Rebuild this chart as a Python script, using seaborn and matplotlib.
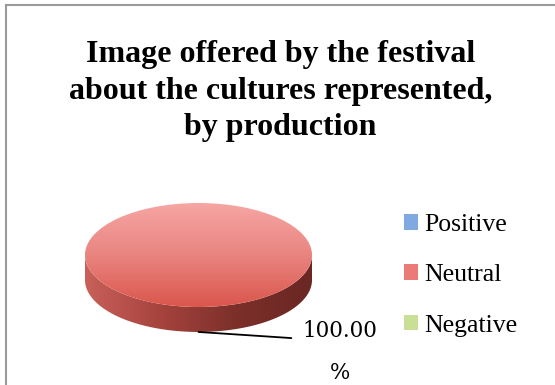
import numpy as np
import matplotlib
matplotlib.use("Agg")
import matplotlib.pyplot as plt
import seaborn as sns
from matplotlib.patches import Polygon, Rectangle, Patch
from matplotlib.colors import LinearSegmentedColormap

# Data
categories = ["Positive", "Neutral", "Negative"]
shares = [0.0, 100.0, 0.0]
title_lines = ["Image offered by the festival",
               "about the cultures represented,",
               "by production"]

sns.set_theme(style="white")
plt.rcParams["font.family"] = ["Liberation Serif", "DejaVu Serif"]
plt.rcParams["text.color"] = "black"

base_colors = sns.color_palette(["#4F81BD", "#C0504D", "#9BBB59"])
legend_colors = ["#7ea9e1", "#ea7b76", "#c8df95"]
# top-face gradient (bottom -> top) and side gradient (left -> right) per slice
top_grad = {
    "Positive": ["#5a8ed3", "#a9c8f2"],
    "Neutral": ["#da564d", "#e9847f", "#f6a6a4"],
    "Negative": ["#9fc25c", "#d6eaa8"],
}
side_grad = {
    "Positive": ["#4f7fbd", "#2f5585", "#264670"],
    "Neutral": ["#c9605a", "#a6433d", "#7c2f2a", "#6a2723"],
    "Negative": ["#8fb052", "#64803a", "#546c31"],
}
depth = 0.48

fig = plt.figure(figsize=(5.55, 3.85), dpi=100)
ax = fig.add_axes([60 / 555, 0, 300 / 555, 200 / 385])


def gradient_clip(ax, clip_patch, colors, extent, vertical, zorder):
    cmap = LinearSegmentedColormap.from_list("grad", colors)
    g = np.linspace(0, 1, 256)
    img = g[:, None] if vertical else g[None, :]
    im = ax.imshow(img, cmap=cmap, extent=extent, origin="lower",
                   aspect="auto", zorder=zorder, interpolation="bilinear")
    im.set_clip_path(clip_patch)
    return im


wedges, _ = ax.pie(shares, colors=base_colors, startangle=90,
                   counterclock=False, radius=1, center=(0, 0),
                   wedgeprops=dict(linewidth=0))

total = float(sum(shares))
start = 90.0
for cat, val, wedge in zip(categories, shares, wedges):
    frac = val / total
    end = start - 360.0 * frac
    if frac > 0:
        # visible front side of the disc: angles where sin <= 0
        th = np.radians(np.linspace(end, start, 1441))
        front = np.sin(th) <= 1e-9
        idx = np.flatnonzero(front)
        if idx.size:
            runs = np.split(idx, np.flatnonzero(np.diff(idx) > 1) + 1)
            for run in runs:
                t = th[run]
                xs, ys = np.cos(t), np.sin(t)
                pts = np.vstack([np.column_stack([xs, ys]),
                                 np.column_stack([xs[::-1], ys[::-1] - depth])])
                poly = Polygon(pts, closed=True, facecolor="none",
                               edgecolor="none", zorder=1)
                ax.add_patch(poly)
                gradient_clip(ax, poly, side_grad[cat],
                              [-1, 1, -1 - depth, 0], vertical=False, zorder=1)
        wedge.set_facecolor("none")
        wedge.set_zorder(2)
        gradient_clip(ax, wedge, top_grad[cat], [-1, 1, -1, 1],
                      vertical=True, zorder=2)

        mid = np.radians(start - 180.0 * frac)
        ax.annotate(f"{val:.2f}\n%",
                    xy=(np.cos(mid), min(np.sin(mid), 0) - depth),
                    xytext=(1.25, -1.86), textcoords="data",
                    ha="center", va="center", multialignment="center",
                    fontsize=15.5, family="DejaVu Serif", linespacing=2.2,
                    color="black",
                    arrowprops=dict(arrowstyle="-", color="black", lw=1.3,
                                    relpos=(0.0, 0.7), shrinkA=6, shrinkB=0),
                    zorder=5, annotation_clip=False)
    start = end

ax.set_aspect("auto")
ax.set_xlim((60 - 198.5) / 113.5, (360 - 198.5) / 113.5)
ax.set_ylim(-2.5, (255 - 185) / 52)
ax.axis("off")

fig.text(0.505, 1 - 40 / 385, "\n".join(title_lines), ha="center", va="top",
         fontsize=23, fontweight="bold", linespacing=1.35, color="black")

handles = [Patch(facecolor=c, edgecolor="none") for c in legend_colors]
fig.legend(handles, categories, loc="upper left",
           bbox_to_anchor=(404 / 555, 1 - 214 / 385), frameon=False,
           fontsize=18.5, handlelength=0.55, handleheight=0.55,
           handletextpad=0.25, labelspacing=1.1, borderpad=0,
           borderaxespad=0, labelcolor="black")

fig.add_artist(Rectangle((6 / 555, -0.1), 1.2, 1.1 - 5 / 385,
                         transform=fig.transFigure, fill=False,
                         edgecolor="#9a9a9a", linewidth=1.5, clip_on=False))

fig.savefig("out.png", dpi=100)
